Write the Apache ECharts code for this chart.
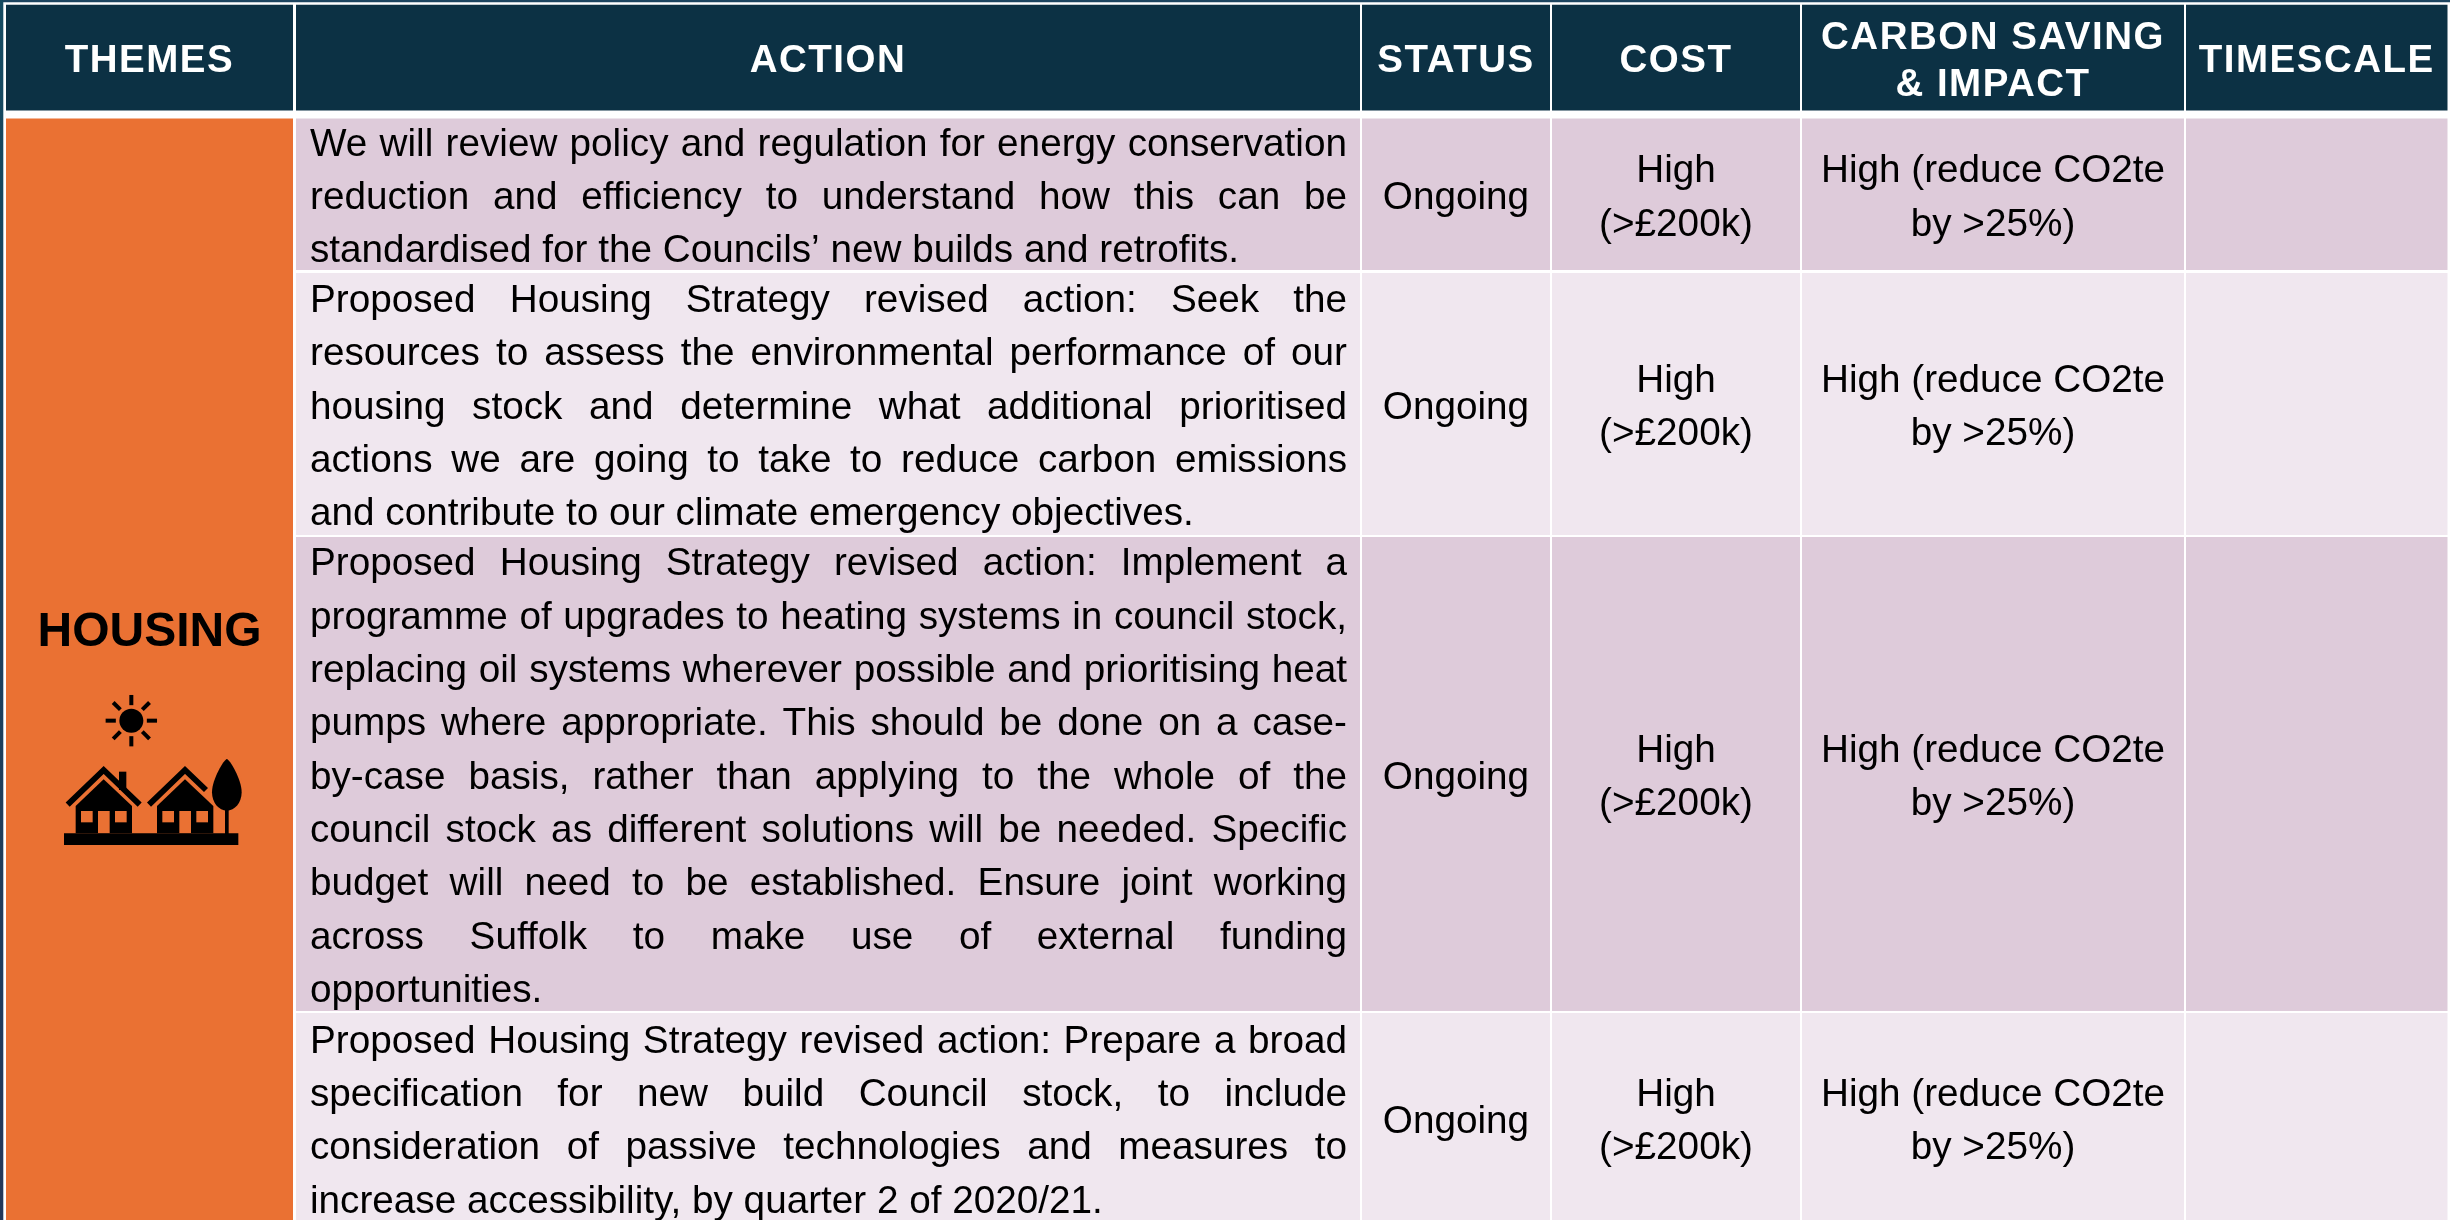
<!DOCTYPE html>
<html>
<head>
<meta charset="utf-8">
<title>Housing actions</title>
<script src="https://cdn.jsdelivr.net/npm/echarts@6/dist/echarts.min.js"></script>
<style>
  html, body {margin: 0; padding: 0; background: #fff;}
  #chart {width: 2450px; height: 1220px;}
</style>
</head>
<body>
<div id="chart"></div>
<script>
const headers = [['THEMES'], ['ACTION'], ['STATUS'], ['COST'], ['CARBON SAVING', '& IMPACT'], ['TIMESCALE']]
const theme = 'HOUSING'
const actions = [
  ['We will review policy and regulation for energy conservation',
    'reduction and efficiency to understand how this can be',
    'standardised for the Councils’ new builds and retrofits.'],
  ['Proposed Housing Strategy revised action: Seek the',
    'resources to assess the environmental performance of our',
    'housing stock and determine what additional prioritised',
    'actions we are going to take to reduce carbon emissions',
    'and contribute to our climate emergency objectives.'],
  ['Proposed Housing Strategy revised action: Implement a',
    'programme of upgrades to heating systems in council stock,',
    'replacing oil systems wherever possible and prioritising heat',
    'pumps where appropriate. This should be done on a case-',
    'by-case basis, rather than applying to the whole of the',
    'council stock as different solutions will be needed. Specific',
    'budget will need to be established. Ensure joint working',
    'across Suffolk to make use of external funding',
    'opportunities.'],
  ['Proposed Housing Strategy revised action: Prepare a broad',
    'specification for new build Council stock, to include',
    'consideration of passive technologies and measures to',
    'increase accessibility, by quarter 2 of 2020/21.']
]
const statuses = ['Ongoing', 'Ongoing', 'Ongoing', 'Ongoing']
const costs = [['High', '(>£200k)'], ['High', '(>£200k)'], ['High', '(>£200k)'], ['High', '(>£200k)']]
const impacts = [
  ['High (reduce CO2te', 'by >25%)'],
  ['High (reduce CO2te', 'by >25%)'],
  ['High (reduce CO2te', 'by >25%)'],
  ['High (reduce CO2te', 'by >25%)']
]

// layout, in page pixels
const W = 2450
const H = 1220
const colEdges = [[6, 293], [296, 1360], [1362, 1550], [1552, 1800], [1802, 2184], [2186, 2447.5]]
const rowEdges = [[118.5, 270], [273, 535], [537, 1011], [1013, 1223]]
const headerTop = 4.7
const headerBottom = 110.5
const textLeft = 310
const textRight = 1347
const lineHeight = 53.3
const bodySize = 38.7
const headerSize = 38.5
const bodyFont = '"Liberation Sans", Arial, sans-serif'

const NAVY = '#0c3144'
const ORANGE = '#ea7133'
const rowFill = ['#decbda', '#f0e7ef']

const measure = document.createElement('canvas').getContext('2d')
measure.font = `${bodySize}px "Liberation Sans"`

const rect = (api, x0, y0, x1, y1, fill) => {
  const [a, b] = api.coord([x0, y0])
  const [c, d] = api.coord([x1, y1])
  return {type: 'rect', shape: {x: a, y: b, width: c - a, height: d - b}, style: {fill}}
}

const label = (api, text, x, y, align = 'center') => {
  const [px, py] = api.coord([x, y])
  return {
    type: 'text',
    style: {text, x: px, y: py, align, verticalAlign: 'middle', fill: '#000', fontSize: bodySize, fontFamily: bodyFont}
  }
}

// centre a few lines on the cell
const stacked = (api, lines, cx, cy) =>
  lines.map((line, i) => label(api, line, cx, cy + (i - (lines.length - 1) / 2) * lineHeight))

// justified paragraph: every line but the last is spread to the full column width
const paragraph = (api, lines, cy) => {
  const out = []
  lines.forEach((line, i) => {
    const y = cy + (i - (lines.length - 1) / 2) * lineHeight
    if (i === lines.length - 1) {
      out.push(label(api, line, textLeft, y, 'left'))
      return
    }
    const words = line.split(' ')
    const total = words.reduce((sum, w) => sum + measure.measureText(w).width, 0)
    const gap = (textRight - textLeft - total) / (words.length - 1)
    let x = textLeft
    words.forEach(w => {
      out.push(label(api, w, x, y, 'left'))
      x += measure.measureText(w).width + gap
    })
  })
  return out
}

const renderHeaderCell = (params, api) => {
  const [x0, x1] = colEdges[api.value(0)]
  return rect(api, x0, headerTop, x1, headerBottom, NAVY)
}

const renderHeaderText = (params, api) => {
  const col = api.value(0)
  const [x0, x1] = colEdges[col]
  const lines = headers[col]
  return {
    type: 'group',
    children: lines.map((line, i) => {
      const [px, py] = api.coord([(x0 + x1) / 2, 61.5 + (i - (lines.length - 1) / 2) * 47])
      return {
        type: 'text',
        style: {
          text: line, x: px, y: py, align: 'center', verticalAlign: 'middle',
          fill: '#fff', fontSize: headerSize, fontWeight: 'bold', fontFamily: bodyFont
        }
      }
    })
  }
}

const renderRow = (params, api) => {
  const row = api.value(0)
  const [y0, y1] = rowEdges[row]
  const cy = (y0 + y1) / 2 + 4
  const fill = rowFill[row % 2]
  const children = colEdges.slice(1).map(([x0, x1]) => rect(api, x0, y0, x1, y1, fill))
  const center = i => (colEdges[i][0] + colEdges[i][1]) / 2
  return {
    type: 'group',
    children: children.concat(
      paragraph(api, actions[row], cy),
      stacked(api, [statuses[row]], center(2), cy),
      stacked(api, costs[row], center(3), cy),
      stacked(api, impacts[row], center(4), cy)
    )
  }
}

// sun, two houses and a tree, drawn from the zoomed reference
const renderTheme = (params, api) => {
  const [x0, x1] = colEdges[0]
  const sx = 1 / 3
  const P = (x, y) => api.coord([x * sx, 580 + y * sx])
  const poly = (pts, fill) => ({type: 'polygon', shape: {points: pts.map(p => P(p[0], p[1]))}, style: {fill}})
  const line = (pts, lineWidth) => ({
    type: 'polyline',
    shape: {points: pts.map(p => P(p[0], p[1]))},
    style: {stroke: '#000', fill: null, lineWidth, lineJoin: 'miter', lineCap: 'butt'}
  })
  const box = (a, b, c, d, fill) => poly([[a, b], [c, b], [c, d], [a, d]], fill)

  const sun = []
  const [scx, scy] = P(394, 422)
  sun.push({type: 'circle', shape: {cx: scx, cy: scy, r: 12}, style: {fill: '#000'}})
  for (let k = 0; k < 8; k++) {
    const a = k * Math.PI / 4
    const r0 = 15.5
    const r1 = 25.7
    sun.push({
      type: 'line',
      shape: {x1: scx + r0 * Math.cos(a), y1: scy + r0 * Math.sin(a), x2: scx + r1 * Math.cos(a), y2: scy + r1 * Math.sin(a)},
      style: {stroke: '#000', lineWidth: 4}
    })
  }

  const house = dx => [
    poly([[227 + dx, 678], [311 + dx, 598], [396 + dx, 678], [396 + dx, 760], [227 + dx, 760]], '#000'),
    box(243 + dx, 693, 278 + dx, 727, ORANGE),
    box(345 + dx, 693, 380 + dx, 727, ORANGE),
    box(294 + dx, 693, 329 + dx, 760, ORANGE)
  ]

  const [tx, ty] = P(636, 537)
  const [tx2, ty2] = P(725, 692)
  const treeShape = {
    pathData: 'M44.5 0 C52 0 89 60 89 100 C89 132 68 155 44.5 155 C21 155 0 132 0 100 C0 60 37 0 44.5 0 Z',
    x: tx, y: ty, width: tx2 - tx, height: ty2 - ty
  }

  const [hx, hy] = api.coord([(x0 + x1) / 2, 633])
  return {
    type: 'group',
    children: [
      rect(api, x0, rowEdges[0][0], x1, H + 10, ORANGE),
      {
        type: 'text',
        style: {
          text: theme, x: hx, y: hy, align: 'center', verticalAlign: 'middle',
          fill: '#000', fontSize: 48, fontWeight: 'bold', fontFamily: bodyFont
        }
      },
      ...sun,
      box(357, 575, 379, 630, '#000'),
      line([[203, 674], [311, 570], [419, 674]], 5.8),
      line([[447, 674], [555, 570], [618, 630]], 5.8),
      ...house(0),
      ...house(244),
      {type: 'path', shape: treeShape, style: {fill: ORANGE, stroke: ORANGE, lineWidth: 5}},
      {type: 'path', shape: treeShape, style: {fill: '#000'}},
      box(675, 680, 686, 765, '#000'),
      box(192, 760, 715, 795, '#000')
    ]
  }
}

const renderFrame = (params, api) => {
  const leftEdge = rect(api, 0, 0, 3.3, H, null)
  leftEdge.style.fill = new echarts.graphic.LinearGradient(0, 0, 0, 1, [
    {offset: 0, color: '#154a60'},
    {offset: 1, color: '#24385a'}
  ])
  return {
    type: 'group',
    children: [rect(api, 0, 0, W, 2.3, '#1d4560'), leftEdge]
  }
}

const custom = (renderItem, data, extra = {}) => ({
  type: 'custom',
  coordinateSystem: 'cartesian2d',
  renderItem,
  data,
  silent: true,
  clip: false,
  animation: false,
  ...extra
})

const chart = echarts.init(document.getElementById('chart'), null, {renderer: 'canvas'})

// the header text is letter-spaced; zrender has no option for it, so it gets its own layer
const HEADER_LAYER = 1
chart.getZr().painter.getLayer(HEADER_LAYER).ctx.letterSpacing = '1.5px'

chart.setOption({
  backgroundColor: '#fff',
  animation: false,
  tooltip: {show: false},
  grid: {left: 0, right: 0, top: 0, bottom: 0},
  xAxis: {type: 'value', min: 0, max: W, show: false},
  yAxis: {type: 'value', min: 0, max: H, inverse: true, show: false},
  series: [
    custom(renderFrame, [[0]]),
    custom(renderHeaderCell, headers.map((h, i) => [i])),
    custom(renderTheme, [[0]]),
    custom(renderRow, actions.map((a, i) => [i])),
    custom(renderHeaderText, headers.map((h, i) => [i]), {zlevel: HEADER_LAYER})
  ]
})
</script>
</body>
</html>
